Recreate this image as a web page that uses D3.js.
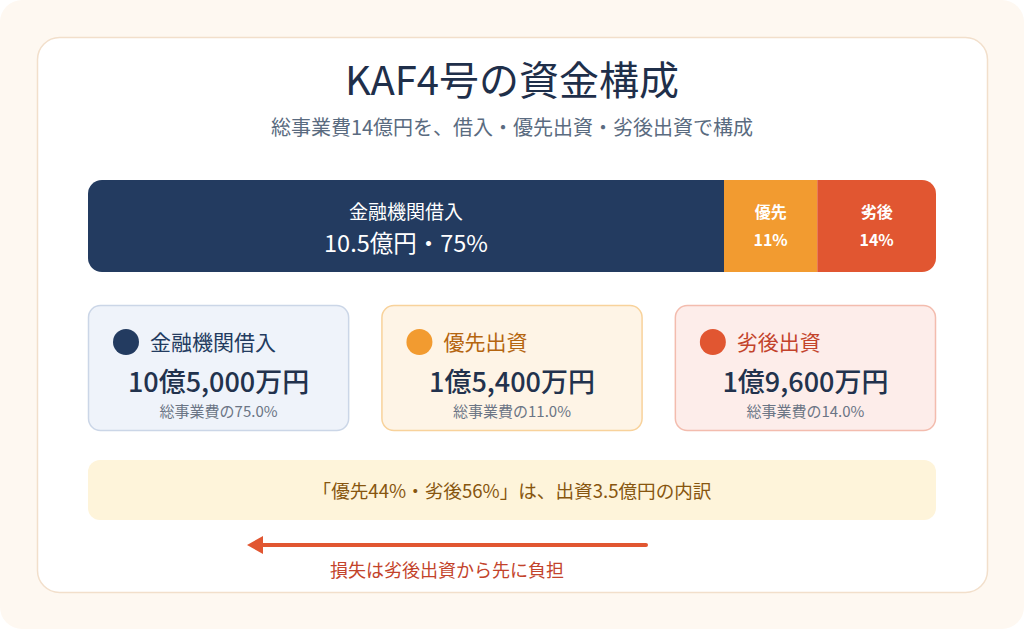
<!DOCTYPE html>
<html><head><meta charset="utf-8">
<script src="https://cdn.jsdelivr.net/npm/d3@7"></script>
<style>
html,body{margin:0;padding:0;background:#ffffff;}
svg{display:block;font-family:"Noto Sans CJK JP","Noto Sans",sans-serif;}
</style></head>
<body>
<svg id="c" width="1024" height="629"></svg>
<script>
const categories = ["金融機関借入", "優先出資", "劣後出資"];
const shortLabels = ["金融機関借入", "優先", "劣後"];
const amountsOku = [10.5, 1.54, 1.96];
const shares = [75, 11, 14];
const amountLabels = ["10億5,000万円", "1億5,400万円", "1億9,600万円"];
const shareLabels = ["総事業費の75.0%", "総事業費の11.0%", "総事業費の14.0%"];
const title = "KAF4号の資金構成";
const subtitle = "総事業費14億円を、借入・優先出資・劣後出資で構成";
const note = "「優先44%・劣後56%」は、出資3.5億円の内訳";
const arrowCaption = "損失は劣後出資から先に負担";

const colors = ["#233b60", "#f29b30", "#e15631"];
const cardFill = ["#eff3fa", "#fef4e6", "#fdedea"];
const cardStroke = ["#cbd6e7", "#f8d29b", "#f3bcae"];
const labelColor = ["#233b60", "#b5650f", "#c3432b"];

const svg = d3.select("#c");
svg.append("rect").attr("x",0).attr("y",0).attr("width",1024).attr("height",629).attr("rx",22).attr("fill","#fef8f1");
svg.append("rect").attr("x",37.5).attr("y",37.5).attr("width",950).attr("height",555).attr("rx",22)
  .attr("fill","#ffffff").attr("stroke","#f2dfcb").attr("stroke-width",1.5);

svg.append("text").attr("x",512).attr("y",95).attr("text-anchor","middle")
  .attr("font-size",40).attr("font-weight",400).attr("fill","#1f2f4a").text(title);
svg.append("text").attr("x",512).attr("y",135).attr("text-anchor","middle")
  .attr("font-size",20).attr("fill","#5a6b80").text(subtitle);

// stacked bar
const total = d3.sum(shares);
const x = d3.scaleLinear().domain([0,total]).range([88,936]);
const cum = d3.cumsum(shares);
const segs = shares.map((s,i)=>({s, i, x0: i===0?0:cum[i-1], x1: cum[i]}));
const barY = 180, barH = 92;
const clip = svg.append("defs").append("clipPath").attr("id","barclip");
clip.append("rect").attr("x",x(0)).attr("y",barY).attr("width",x(total)-x(0)).attr("height",barH).attr("rx",14);
const bar = svg.append("g").attr("clip-path","url(#barclip)");
bar.selectAll("rect").data(segs).join("rect")
  .attr("x",d=>x(d.x0)).attr("y",barY).attr("width",d=>x(d.x1)-x(d.x0)).attr("height",barH)
  .attr("fill",d=>colors[d.i]);

const lab = svg.append("g");
segs.forEach(d=>{
  const cx = (x(d.x0)+x(d.x1))/2;
  if(d.i===0){
    lab.append("text").attr("x",cx).attr("y",219).attr("text-anchor","middle").attr("font-size",19)
      .attr("fill","#ffffff").text(shortLabels[0]);
    lab.append("text").attr("x",cx).attr("y",252).attr("text-anchor","middle").attr("font-size",23.5)
      .attr("fill","#ffffff").text(amountsOku[0]+"億円・"+shares[0]+"%");
  } else {
    lab.append("text").attr("x",cx).attr("y",218).attr("text-anchor","middle").attr("font-size",16)
      .attr("font-weight",600).attr("fill","#ffffff").text(shortLabels[d.i]);
    lab.append("text").attr("x",cx).attr("y",246).attr("text-anchor","middle").attr("font-size",16)
      .attr("font-weight",600).attr("fill","#ffffff").text(shares[d.i]+"%");
  }
});

// cards
const cardX = d3.scaleBand().domain(d3.range(3)).range([88,936]).paddingInner(0.11);
const cards = svg.selectAll("g.card").data(categories).join("g").attr("class","card")
  .attr("transform",(d,i)=>`translate(${cardX(i)},305)`);
const cw = cardX.bandwidth();
cards.append("rect").attr("x",0.5).attr("y",0.5).attr("width",cw-1).attr("height",125).attr("rx",12)
  .attr("fill",(d,i)=>cardFill[i]).attr("stroke",(d,i)=>cardStroke[i]).attr("stroke-width",1.5);
cards.append("circle").attr("cx",38).attr("cy",37).attr("r",13).attr("fill",(d,i)=>colors[i]);
cards.append("text").attr("x",62).attr("y",44.5).attr("font-size",21).attr("fill",(d,i)=>labelColor[i]).text(d=>d);
cards.append("text").attr("x",cw/2).attr("y",87).attr("text-anchor","middle").attr("font-size",27)
  .attr("font-weight",500).attr("fill","#22324d").text((d,i)=>amountLabels[i]);
cards.append("text").attr("x",cw/2).attr("y",112).attr("text-anchor","middle").attr("font-size",15)
  .attr("fill","#6b7585").text((d,i)=>shareLabels[i]);

// note
svg.append("rect").attr("x",88).attr("y",460).attr("width",848).attr("height",60).attr("rx",12).attr("fill","#fef4da");
svg.append("text").attr("x",512).attr("y",498).attr("text-anchor","middle").attr("font-size",18.6)
  .attr("fill","#87560f").text(note);

// arrow
svg.append("line").attr("x1",646).attr("y1",545).attr("x2",262).attr("y2",545)
  .attr("stroke","#e15631").attr("stroke-width",4).attr("stroke-linecap","round");
svg.append("path").attr("d","M247,545 L263,536 L263,554 Z").attr("fill","#e15631");
svg.append("text").attr("x",447).attr("y",577).attr("text-anchor","middle").attr("font-size",18)
  .attr("fill","#c3432b").text(arrowCaption);
</script>
</body></html>
